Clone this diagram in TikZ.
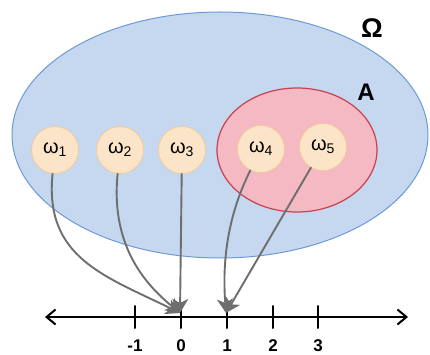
\documentclass[tikz,border=0pt]{standalone}
\usepackage{fontspec}
\setmainfont{Liberation Sans}
\usetikzlibrary{arrows.meta}
\definecolor{omegaBlue}{HTML}{C6D8F0}
\definecolor{omegaEdge}{HTML}{6C9AD6}
\definecolor{setRed}{HTML}{F4B9C2}
\definecolor{setEdge}{HTML}{C8414C}
\definecolor{outFill}{HTML}{FCE4C8}
\definecolor{outEdge}{HTML}{F2CC98}
\definecolor{mapGray}{HTML}{6E6E6E}

\begin{document}
\begin{tikzpicture}[
  x=1pt, y=-1pt,
  line cap=round, line join=round,
  outcome/.style={circle, draw=outEdge, fill=outFill, line width=.8pt,
    minimum size=47pt, inner sep=0pt, font=\fontsize{20}{20}\selectfont},
  map arrow/.style={draw=mapGray, line width=1.9pt,
    -{Stealth[length=14pt,width=16pt,inset=4pt]}},
  axis line/.style={draw=black, line width=2pt},
  tick label/.style={font=\fontsize{17}{17}\selectfont\bfseries}
]
\useasboundingbox (0,0) rectangle (430,355);

% sample space and event
\draw[draw=omegaEdge, fill=omegaBlue, line width=1pt]
  (220,135) ellipse[x radius=208, y radius=123];
\draw[draw=setEdge, fill=setRed, line width=1.2pt]
  (297,150) ellipse[x radius=80, y radius=62];
\node[font=\fontsize{27}{27}\selectfont\bfseries] (Om) at (372,28) {Ω};
\node[font=\fontsize{24}{24}\selectfont\bfseries] (A) at (366,92) {A};

% outcomes
\node[outcome] (w1) at (55,150) {ω\textsubscript{1}};
\node[outcome] (w2) at (120,150) {ω\textsubscript{2}};
\node[outcome] (w3) at (182,150) {ω\textsubscript{3}};
\node[outcome] (w4) at (261,149) {ω\textsubscript{4}};
\node[outcome] (w5) at (323,147) {ω\textsubscript{5}};

% real line
\draw[axis line, {Straight Barb[length=9pt,width=15pt]}-{Straight Barb[length=9pt,width=15pt]}]
  (45,317) -- (408,317);
\foreach \k/\xx in {-1/135,0/181,1/227,2/273,3/318} {
  \draw[axis line] (\xx,306) -- (\xx,328);
  \node[tick label] (t\k) at (\xx,346) {\k};
}
\coordinate (z0) at (180,313);
\coordinate (z1) at (226,313);

% the random variable
\draw[map arrow] (w1) .. controls (44,258) and (105,276) .. (z0);
\draw[map arrow] (w2) .. controls (110,250) and (150,288) .. (z0);
\draw[map arrow] (w3) -- (z0);
\draw[map arrow] (w4) .. controls (228,215) and (222,260) .. (z1);
\draw[map arrow] (w5) -- (z1);
\end{tikzpicture}
\end{document}
